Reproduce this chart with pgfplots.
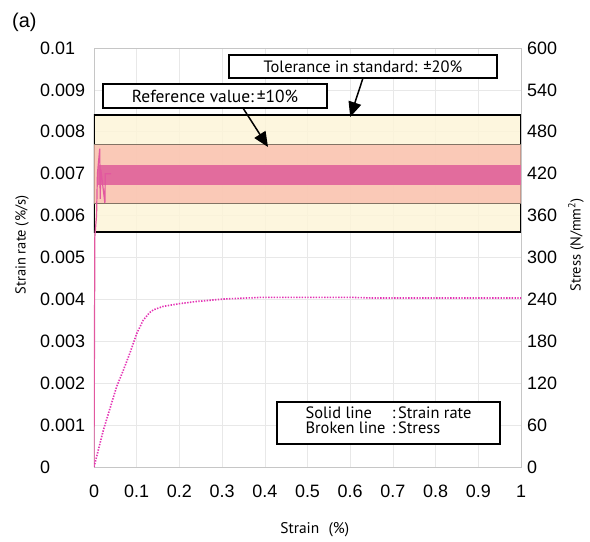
\documentclass[border=0pt]{standalone}
\usepackage{pgfplots}
\pgfplotsset{compat=1.18}
\usepackage{fontspec}
\setmainfont{Liberation Sans}
\newfontfamily\labelfont{PT Sans}
\usetikzlibrary{arrows.meta}

\definecolor{cream}{RGB}{253,244,216}
\definecolor{salmon}{RGB}{250,190,174}
\definecolor{rateband}{RGB}{226,108,157}
\definecolor{rateline}{RGB}{226,88,159}
\definecolor{stressline}{RGB}{228,52,180}
\definecolor{bandedge}{RGB}{130,115,100}

\newcommand{\lblfont}{\labelfont\fontsize{14.5}{16}\selectfont}

\pgfplotsset{
  chartbase/.style={
    at={(0,0)}, anchor=south west,
    width=427bp, height=419bp, scale only axis,
    xmin=0, xmax=1,
    tick style={draw=none},
    axis line style={gray!45},
    ticklabel style={font=\fontsize{18}{20}\selectfont},
    /pgf/number format/assume math mode=true,
  },
}

\begin{document}
\begin{tikzpicture}
\useasboundingbox (-94bp,-75bp) rectangle (496bp,467bp);

\begin{axis}[
    chartbase,
    ymin=0, ymax=0.01,
    xtick={0,0.1,0.2,0.3,0.4,0.5,0.6,0.7,0.8,0.9,1},
    ytick={0,0.001,0.002,0.003,0.004,0.005,0.006,0.007,0.008,0.009,0.01},
    /pgf/number format/.cd, fixed, precision=3, /pgfplots/.cd,
    scaled y ticks=false,
    grid=major,
    major grid style={gray!18, line width=0.6bp},
    yticklabel style={anchor=west, inner sep=0pt, xshift=-54bp},
    xticklabel style={anchor=north, inner sep=0pt, yshift=-18bp},
    xlabel={Strain\hspace{0.6em}(\%)},
    xlabel style={font=\labelfont\fontsize{15.5}{17}\selectfont,
                  at={(axis description cs:0.517,0)}, anchor=center, yshift=-63bp},
    ylabel={Strain rate (\%/s)},
    ylabel style={font=\lblfont, at={(axis description cs:-0.1686,0.53)}, anchor=center},
]

% tolerance in standard: +-20% of 0.007
\addplot[fill=cream, fill opacity=0.85, draw=black, line width=1.8bp]
    coordinates {(0,0.0056) (1,0.0056) (1,0.0084) (0,0.0084)} -- cycle;

% reference value: +-10% of 0.007
\addplot[fill=salmon, fill opacity=0.8, draw=none]
    coordinates {(0,0.0063) (1,0.0063) (1,0.0077) (0,0.0077)} -- cycle;
\addplot[bandedge, line width=0.8bp] coordinates {(0,0.0063) (1,0.0063)};
\addplot[bandedge, line width=0.8bp] coordinates {(0,0.0077) (1,0.0077)};

% strain rate (noisy signal envelope)
\addplot[fill=rateband, draw=none]
    coordinates {(0.009,0.00673) (1,0.00673) (1,0.00721) (0.009,0.00721)} -- cycle;
\addplot[rateline, line width=1.2bp]
    coordinates {
      (0,0) (0.002,0.0055) (0.006,0.0060) (0.008,0.0070) (0.0135,0.0076)
      (0.0145,0.0064) (0.016,0.0071) (0.0255,0.0063) (0.0265,0.0070) (0.04,0.0070)
    };

% annotations
\node[draw=black, line width=1.6bp, fill=white, minimum width=268bp, minimum height=23bp,
      inner sep=0pt, font=\labelfont\fontsize{16.5}{18}\selectfont]
      at (axis cs:0.630,0.009558) {Tolerance in standard: \textpm20\%};
\node[draw=black, line width=1.6bp, fill=white, minimum width=224bp, minimum height=24bp,
      inner sep=0pt, font=\labelfont\fontsize{17.5}{19}\selectfont]
      at (axis cs:0.2834,0.008854) {Reference value:\,\textpm10\%};
\draw[line width=1.5bp, -{Triangle[length=15bp,width=13bp]}]
      (axis cs:0.630,0.009284) -- (axis cs:0.600,0.008353);
\draw[line width=1.5bp, -{Triangle[length=15bp,width=13bp]}]
      (axis cs:0.3489,0.008568) -- (axis cs:0.4075,0.007637);

\node[draw=black, line width=1.6bp, fill=white, minimum width=223bp, minimum height=42bp,
      inner sep=0pt, font=\labelfont\fontsize{16.5}{17}\selectfont]
      at (axis cs:0.6897,0.00105)
      {\begin{tabular}{@{}l@{}l@{}}Solid line\hspace{1.2em} & :\,Strain rate\\[-2pt]
       Broken line\, & :\,Stress\end{tabular}};
\end{axis}

\begin{axis}[
    chartbase,
    ymin=0, ymax=600,
    axis y line*=right,
    axis x line=none,
    ytick={0,60,120,180,240,300,360,420,480,540,600},
    yticklabel style={anchor=west, inner sep=0pt, xshift=6bp},
    ylabel={Stress (N/mm\textsuperscript{2})},
    ylabel style={font=\lblfont, at={(axis description cs:1.1288,0.53)}, anchor=center},
]
\addplot[stressline, line width=1.6bp, dash pattern=on 1.4bp off 1.4bp]
    coordinates {
      (0,0) (0.005,12) (0.022,53) (0.053,115) (0.069,139) (0.084,163)
      (0.100,191) (0.115,210) (0.130,221) (0.139,225) (0.162,230)
      (0.201,234) (0.240,237) (0.303,240.5) (0.396,243) (0.5,243)
      (0.6,243) (0.65,242) (0.8,242) (1,242)
    };
\end{axis}

\node[anchor=west, inner sep=0pt, font=\fontsize{20}{22}\selectfont] at (-82bp,445bp) {(a)};
\end{tikzpicture}
\end{document}
